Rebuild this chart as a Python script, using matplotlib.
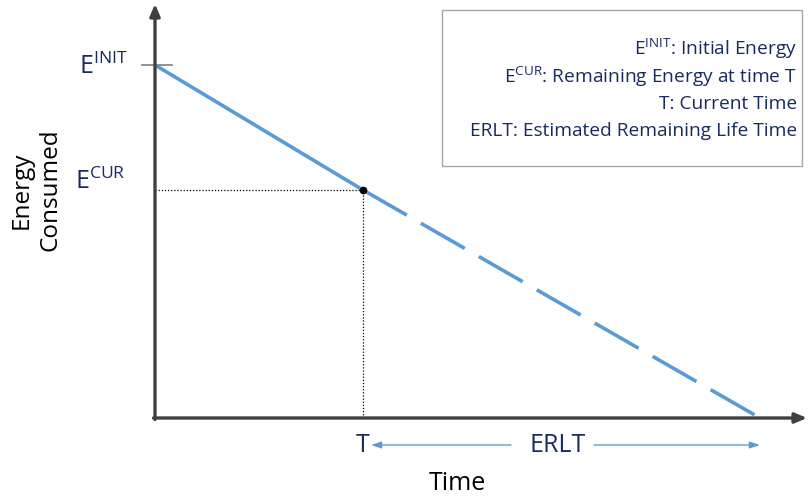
"""Energy consumption model: initial energy, current energy and estimated remaining life time."""

import matplotlib

matplotlib.use("Agg")
import matplotlib.pyplot as plt

plt.rcParams["font.family"] = ["Open Sans", "DejaVu Sans"]
plt.rcParams["mathtext.fontset"] = "custom"
plt.rcParams["mathtext.rm"] = "Open Sans"

# data (time / energy in drawing units, origin at the axes corner)
time_points = [0, 208, 605]          # start, T (current time), end of life
energy_points = [353, 228, 0]        # E_INIT, E_CUR, depleted
legend_lines = [
    "E$^{\\mathregular{INIT}}$: Initial Energy",
    "E$^{\\mathregular{CUR}}$: Remaining Energy at time T",
    "T: Current Time",
    "ERLT: Estimated Remaining Life Time",
]

LINE_BLUE = "#5B9BD5"
NAVY = "#172B63"
AXIS_GREY = "#404040"

fig = plt.figure(figsize=(8.08, 4.97), dpi=100)
ax = fig.add_axes([0, 0, 1, 1])
ax.set_xlim(-155, 653)
ax.set_ylim(-79, 418)
ax.axis("off")

t0, t_cur, t_end = time_points
e_init, e_cur, e_end = energy_points

# axes with arrows
ax.annotate("", xy=(0, 414), xytext=(0, -1.5),
            arrowprops=dict(arrowstyle="-|>,head_length=0.7,head_width=0.3",
                            color=AXIS_GREY, lw=2.4, shrinkA=0, shrinkB=0))
ax.annotate("", xy=(652, 0), xytext=(-1.5, 0),
            arrowprops=dict(arrowstyle="-|>,head_length=0.7,head_width=0.3",
                            color=AXIS_GREY, lw=2.4, shrinkA=0, shrinkB=0))
ax.plot([-13, 17], [e_init, e_init], color="#7F7F7F", lw=1.2)

# energy line: solid up to now, dashed projection afterwards
ax.plot([t0, t_cur], [e_init, e_cur], color=LINE_BLUE, lw=2.6, solid_capstyle="butt")
ax.plot([t_cur, t_end], [e_cur, e_end], color=LINE_BLUE, lw=2.6,
        ls=(0, (14, 4.5)), dash_capstyle="butt")

# guides to current point
ax.plot([t0, t_cur], [e_cur, e_cur], color="black", lw=0.9, ls=(0, (1, 1.5)))
ax.plot([t_cur, t_cur], [0, e_cur], color="black", lw=0.9, ls=(0, (1, 1.5)))
ax.plot([t_cur], [e_cur], "o", color="black", ms=4.5)

# labels
ax.text(-28, e_init - 2, "E$^{\\mathregular{INIT}}$", color=NAVY, fontsize=18,
        ha="right", va="center")
ax.text(-30, e_cur + 8, "E$^{\\mathregular{CUR}}$", color=NAVY, fontsize=18,
        ha="right", va="center")
ax.text(-119, 228, "Energy\nConsumed", rotation=90, fontsize=17.5, ha="center",
        va="center", linespacing=1.25)
ax.text(302, -65, "Time", fontsize=18, ha="center", va="center")
ax.text(t_cur, -27, "T", color=NAVY, fontsize=18, ha="center", va="center")
ax.text((t_cur + t_end) / 2 - 4, -27, "ERLT", color=NAVY, fontsize=18,
        ha="center", va="center")
arrow_kw = dict(arrowstyle="-|>,head_length=0.6,head_width=0.2", color=LINE_BLUE,
                lw=1.0, shrinkA=0, shrinkB=0)
ax.annotate("", xy=(t_cur + 8, -27), xytext=(356, -27), arrowprops=arrow_kw)
ax.annotate("", xy=(t_end, -27), xytext=(439, -27), arrowprops=arrow_kw)

# legend box
ax.add_patch(plt.Rectangle((287, 252), 360, 156, fill=False, edgecolor="#A6A6A6", lw=1.0))
for i, line in enumerate(legend_lines):
    ax.text(642, 369 - i * 27.5, line, color=NAVY, fontsize=13.8, ha="right",
            va="center")

fig.savefig("out.png", dpi=100)
